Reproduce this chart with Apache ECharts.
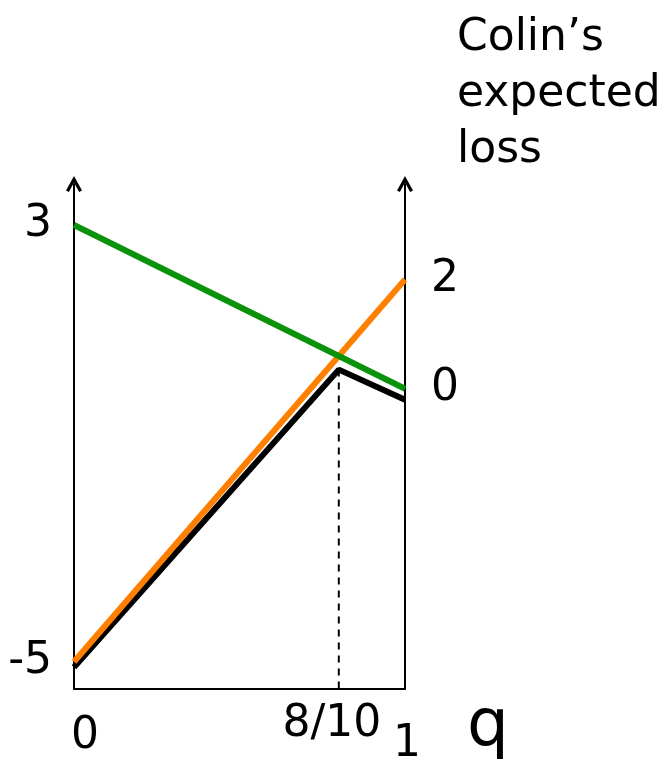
<!DOCTYPE html>
<html>
<head>
<meta charset="utf-8">
<script src="https://cdn.jsdelivr.net/npm/echarts@6/dist/echarts.min.js"></script>
<style>
  html, body { margin: 0; padding: 0; background: #fff; }
  #main { width: 663px; height: 759px; }
</style>
</head>
<body>
<div id="main"></div>
<script>
var myChart = echarts.init(document.getElementById('main'));

// q values and expected loss of each pure strategy
var greenLine = [[0, 3], [1, 0]];
var orangeLine = [[0, -5], [1, 2]];
// lower envelope, drawn a little below the two lines
var blackLine = [[0, -5.1], [0.8, 0.35], [1, -0.2]];
var peakQ = 0.8;

var leftTicks = [3, -5];
var rightTicks = [2, 0];
var qTicks = [0, 0.8, 1];
var qTickNames = { 0: '0', 0.8: '8/10', 1: '1' };

var yMin = -5.5, yMax = 3.75;
var font = "'Comic Sans MS', 'DejaVu Sans', sans-serif";
var chevron = 'path://M0,9 L5,0 L10,9 L8.2,10 L5,4 L1.8,10 Z';

let option = {
    animation: false,
    backgroundColor: '#fff',
    title: {
        text: 'Colin’s\nexpected\nloss',
        left: 452,
        top: 6,
        textStyle: {fontFamily: font, fontSize: 44, fontWeight: 'normal', color: '#000', lineHeight: 56}
    },
    grid: {left: 74, right: 258, top: 184, bottom: 70, outerBoundsMode: 'none'},
    xAxis: {
        type: 'value', min: 0, max: 1,
        name: 'q',
        nameLocation: 'end',
        nameGap: 62,
        nameTextStyle: {fontFamily: 'DejaVu Sans', fontSize: 66, color: '#000', verticalAlign: 'top', padding: [6, 0, 0, 0]},
        splitLine: {show: false},
        axisTick: {show: false},
        axisLine: {onZero: false, lineStyle: {color: '#000', width: 2}},
        axisLabel: {
            customValues: qTicks,
            margin: 14,
            formatter: function (v) {
                var s = qTickNames[v];
                if (v === 0) return '{a|' + s + '}';
                if (v === 1) return '{c|' + s + '}';
                return '{b|' + s + '}';
            },
            rich: {
                a: {fontFamily: font, fontSize: 44, color: '#000', padding: [12, 0, 0, 22]},
                b: {fontFamily: font, fontSize: 44, color: '#000', padding: [0, 14, 0, 0]},
                c: {fontFamily: font, fontSize: 44, color: '#000', padding: [20, 0, 0, 4]}
            }
        }
    },
    yAxis: [
        {
            type: 'value', min: yMin, max: yMax, position: 'left',
            splitLine: {show: false},
            axisTick: {show: false},
            axisLine: {show: true, symbol: ['none', chevron], symbolSize: [18, 16], lineStyle: {color: '#000', width: 2}},
            axisLabel: {customValues: leftTicks, margin: 22, fontFamily: font, fontSize: 44, color: '#000'}
        },
        {
            type: 'value', min: yMin, max: yMax, position: 'right',
            splitLine: {show: false},
            axisTick: {show: false},
            axisLine: {show: true, onZero: false, symbol: ['none', chevron], symbolSize: [18, 16], lineStyle: {color: '#000', width: 2}},
            axisLabel: {customValues: rightTicks, margin: 26, fontFamily: font, fontSize: 44, color: '#000'}
        }
    ],
    series: [
        {
            type: 'line', data: [[peakQ, blackLine[1][1]], [peakQ, yMin]],
            symbol: 'none', lineStyle: {color: '#000', width: 2, type: [7, 6]}
        },
        {
            type: 'line', data: blackLine,
            symbol: 'none', lineStyle: {color: '#000', width: 6}
        },
        {
            type: 'line', data: orangeLine,
            symbol: 'none', lineStyle: {color: '#ff8000', width: 6}
        },
        {
            type: 'line', data: greenLine,
            symbol: 'none', lineStyle: {color: '#0a920a', width: 6}
        }
    ]
};

myChart.setOption(option);
</script>
</body>
</html>
